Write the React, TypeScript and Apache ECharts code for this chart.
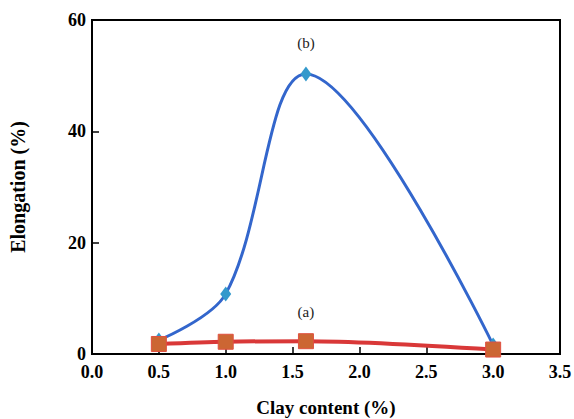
import React, { useEffect, useRef } from "react";
import * as echarts from "echarts";

const clay = [0.5, 1.0, 1.6, 3.0];
const elongationB = [2.5, 10.8, 50.3, 1.6];
const elongationA = [1.8, 2.2, 2.3, 0.8];
const xTicks = [0, 0.5, 1.0, 1.5, 2.0, 2.5, 3.0, 3.5];
const yTicks = [0, 20, 40, 60];
const labelB = "(b)";
const labelA = "(a)";
const peakIndex = 2;

const serif = "'Liberation Serif', 'Times New Roman', serif";

export default function App() {
  const ref = useRef<HTMLDivElement>(null);
  useEffect(() => {
    document.body.style.margin = "0";
    const chart = echarts.init(ref.current!, null, { renderer: "svg" });
    const mkLabel = (text: string, dist: number) => ({
      show: true,
      formatter: text,
      position: "top",
      distance: dist,
      fontFamily: serif,
      fontSize: 15,
      color: "#222",
    });
    const bData = clay.map((x, i) =>
      i === peakIndex
        ? { value: [x, elongationB[i]], label: mkLabel(labelB, 16) }
        : { value: [x, elongationB[i]] }
    );
    const aData = clay.map((x, i) =>
      i === peakIndex
        ? { value: [x, elongationA[i]], label: mkLabel(labelA, 14) }
        : { value: [x, elongationA[i]] }
    );
    chart.setOption({
      animation: false,
      backgroundColor: "#fff",
      grid: {
        left: 92,
        right: 14,
        top: 20,
        bottom: 65,
        show: true,
        borderColor: "#000",
        borderWidth: 2,
        outerBoundsMode: "none",
        containLabel: false,
      },
      xAxis: {
        type: "value",
        min: xTicks[0],
        max: xTicks[xTicks.length - 1],
        interval: 0.5,
        name: "Clay content (%)",
        nameLocation: "middle",
        nameGap: 44,
        nameTextStyle: { fontFamily: serif, fontWeight: "bold", fontSize: 19, color: "#000" },
        axisLine: { lineStyle: { color: "#000", width: 2 } },
        axisTick: { inside: true, length: 7, lineStyle: { color: "#000", width: 1.5 } },
        axisLabel: {
          margin: 9,
          fontFamily: serif,
          fontWeight: "bold",
          fontSize: 18,
          color: "#000",
          formatter: (v: number) => v.toFixed(1),
        },
        splitLine: { show: false },
      },
      yAxis: {
        type: "value",
        min: yTicks[0],
        max: yTicks[yTicks.length - 1],
        interval: 20,
        name: "Elongation (%)",
        nameLocation: "middle",
        nameGap: 64,
        nameTextStyle: { fontFamily: serif, fontWeight: "bold", fontSize: 20, color: "#000" },
        axisLine: { lineStyle: { color: "#000", width: 2 } },
        axisTick: { inside: true, length: 7, lineStyle: { color: "#000", width: 1.5 } },
        axisLabel: {
          margin: 6,
          fontFamily: serif,
          fontWeight: "bold",
          fontSize: 18,
          color: "#000",
        },
        splitLine: { show: false },
      },
      series: [
        {
          type: "line",
          data: bData,
          smooth: 0.35,
          symbol: "diamond",
          symbolSize: [11, 15],
          itemStyle: { color: "#3399cc" },
          lineStyle: { color: "#3366cc", width: 3 },
          z: 2,
        },
        {
          type: "line",
          data: aData,
          smooth: 0.3,
          symbol: "rect",
          symbolSize: 15,
          itemStyle: { color: "#cc6633", borderColor: "#e05040", borderWidth: 1 },
          lineStyle: { color: "#d93838", width: 4 },
          z: 3,
        },
      ],
    });
    return () => chart.dispose();
  }, []);
  return <div ref={ref} style={{ width: 574, height: 419 }} />;
}
